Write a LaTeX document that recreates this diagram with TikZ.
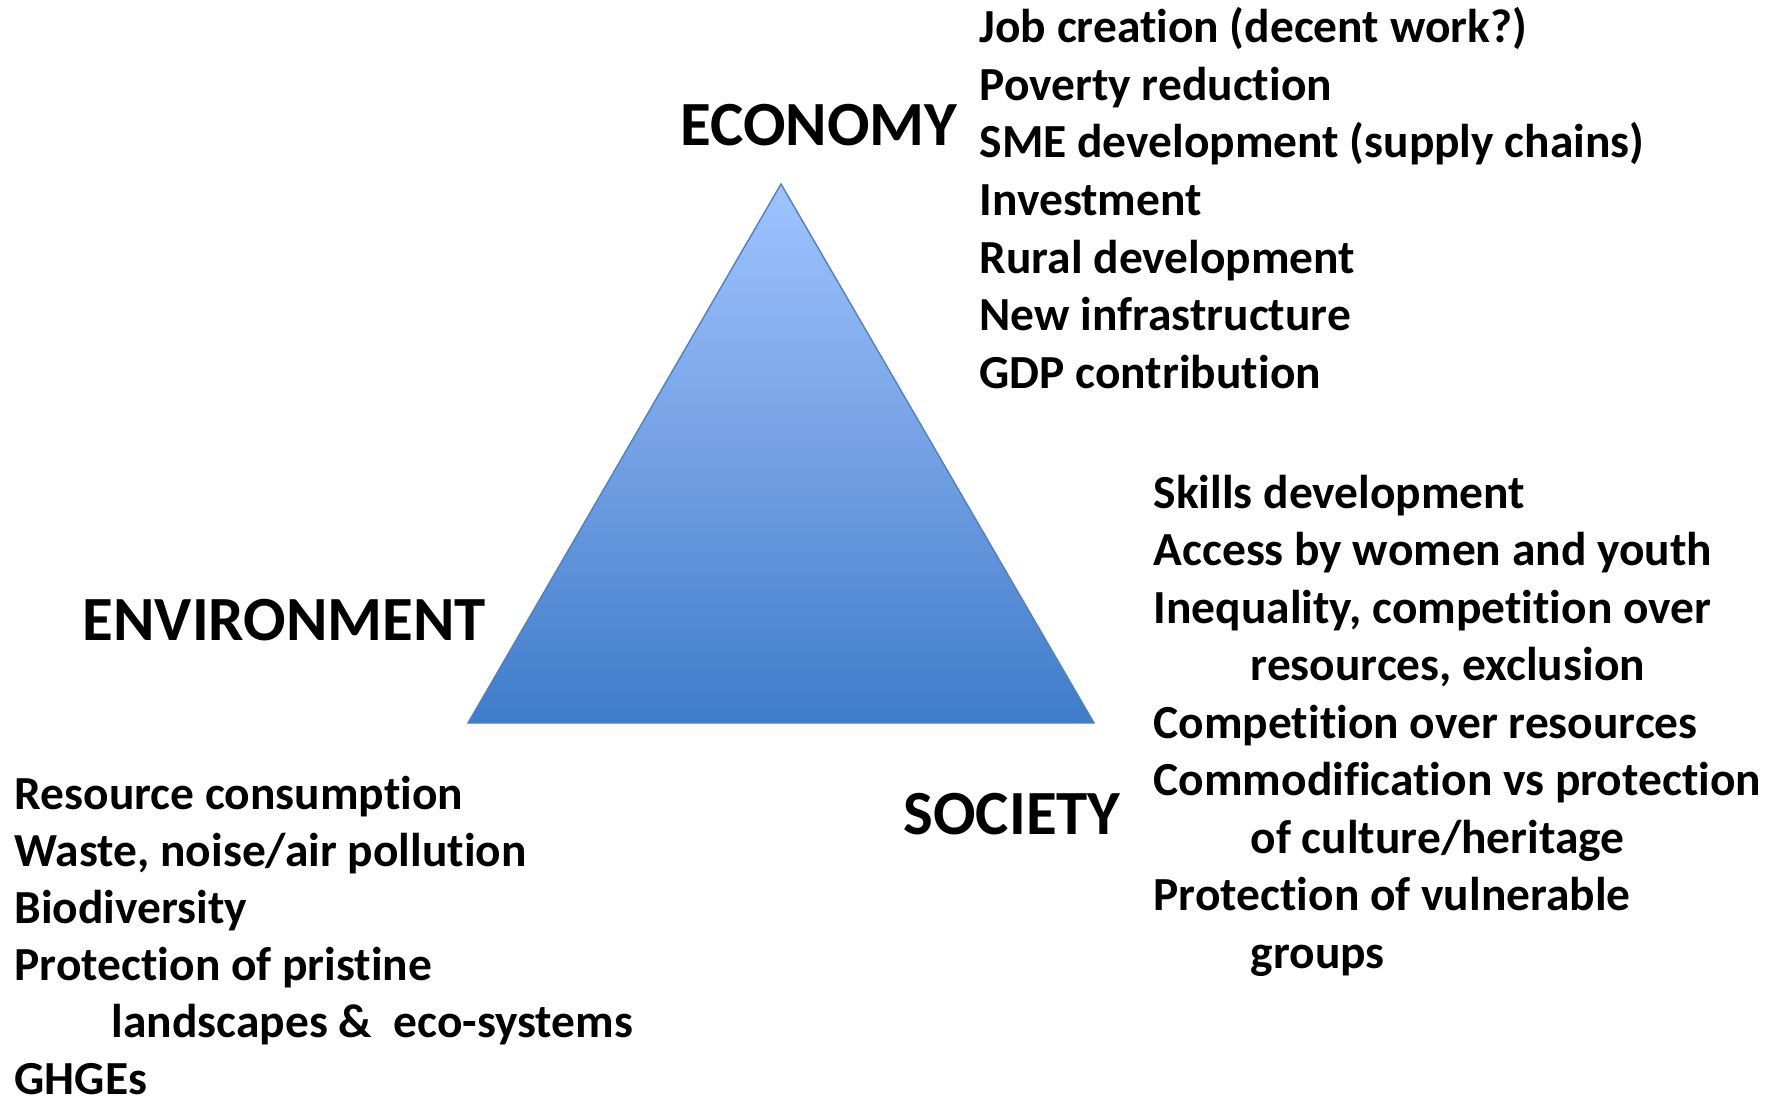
\documentclass[tikz,border=0pt]{standalone}
\usepackage{fontspec}
\setmainfont{Carlito}[Ligatures=NoCommon]
\definecolor{triTop}{RGB}{158,196,255}
\definecolor{triMid}{RGB}{116,160,228}
\definecolor{triBot}{RGB}{62,124,202}
\definecolor{triLine}{RGB}{79,129,189}
\tikzset{
  pillar/.style={anchor=base west, inner sep=0pt, font=\fontsize{17.9}{21}\selectfont\bfseries},
  item/.style={anchor=base west, inner sep=0pt, font=\fontsize{13.5}{16.4}\selectfont\bfseries}
}
\begin{document}
\begin{tikzpicture}[x=0.1mm, y=-0.1mm]
\useasboundingbox (0,0) rectangle (1785,1099);

% triangle
\coordinate (apex) at (781,184);
\coordinate (bl) at (468,723);
\coordinate (br) at (1094,723);
\draw[triLine, line width=0.4pt, top color=triTop, bottom color=triBot, middle color=triMid]
  (apex) -- (bl) -- (br) -- cycle;

% headings
\node[pillar] (economy) at (680,146) {ECONOMY};
\node[pillar] (environment) at (82,640) {ENVIRONMENT};
\node[pillar] (society) at (903,834) {SOCIETY};

% economy list
\foreach \t [count=\i from 0] in {Job creation (decent work?), Poverty reduction,
    SME development (supply chains), Investment, Rural development,
    New infrastructure, GDP contribution}{
  \node[item] (eco\i) at (979,{43+57.5*\i}) {\t};
}

% society list
\foreach \x/\t [count=\i from 0] in {0/Skills development, 0/Access by women and youth,
    0/{Inequality, competition over}, 97/{resources, exclusion},
    0/Competition over resources, 0/Commodification vs protection,
    97/{of culture/heritage}, 0/Protection of vulnerable, 97/groups}{
  \node[item] (soc\i) at ({1153+\x},{508+57.5*\i}) {\t};
}

% environment list
\foreach \x/\t [count=\i from 0] in {0/Resource consumption, 0/{Waste, noise/air pollution},
    0/Biodiversity, 0/Protection of pristine, 97/landscapes \&\ \ eco-systems, 0/GHGEs}{
  \node[item] (env\i) at ({14+\x},{809+57*\i}) {\t};
}
\end{tikzpicture}
\end{document}
